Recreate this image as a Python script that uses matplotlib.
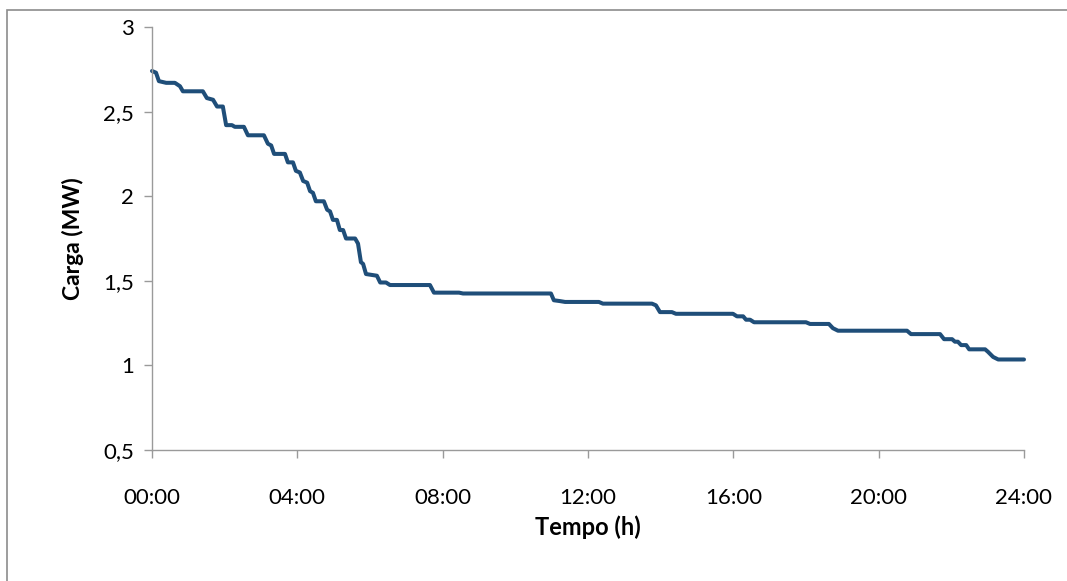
import matplotlib
matplotlib.use("Agg")
import matplotlib.pyplot as plt
from matplotlib.patches import Rectangle

# Load profile over one day (hour of day, load in MW)
hours = [0.00, 0.11, 0.19, 0.39, 0.63, 0.77, 0.85, 1.40, 1.51, 1.68,
         1.79, 1.95, 2.04, 2.20, 2.28, 2.53, 2.64, 3.08, 3.19, 3.28,
         3.36, 3.66, 3.74, 3.88, 3.96, 4.07, 4.16, 4.27, 4.35, 4.43,
         4.51, 4.73, 4.82, 4.90, 4.98, 5.09, 5.17, 5.26, 5.34, 5.59,
         5.67, 5.75, 5.81, 5.89, 6.19, 6.28, 6.44, 6.55, 7.65, 7.76,
         8.45, 8.56, 10.98, 11.06, 11.23, 11.37, 12.30, 12.41, 13.76, 13.87,
         13.98, 14.31, 14.42, 15.99, 16.10, 16.27, 16.35, 16.46, 16.57, 18.00,
         18.11, 18.63, 18.74, 18.88, 20.78, 20.89, 21.69, 21.80, 22.02, 22.10,
         22.18, 22.27, 22.41, 22.49, 22.93, 23.01, 23.15, 23.29, 24.00]
load_mw = [2.74, 2.73, 2.68, 2.67, 2.67, 2.65, 2.62, 2.62, 2.58, 2.57,
           2.53, 2.53, 2.42, 2.42, 2.41, 2.41, 2.36, 2.36, 2.31, 2.30,
           2.25, 2.25, 2.20, 2.20, 2.15, 2.14, 2.09, 2.08, 2.03, 2.02,
           1.97, 1.97, 1.92, 1.91, 1.86, 1.86, 1.80, 1.80, 1.75, 1.75,
           1.72, 1.61, 1.60, 1.54, 1.53, 1.49, 1.49, 1.475, 1.475, 1.43,
           1.43, 1.425, 1.425, 1.385, 1.38, 1.375, 1.375, 1.365, 1.365, 1.355,
           1.315, 1.315, 1.305, 1.305, 1.29, 1.29, 1.27, 1.27, 1.255, 1.255,
           1.245, 1.245, 1.22, 1.205, 1.205, 1.185, 1.185, 1.155, 1.155, 1.14,
           1.14, 1.12, 1.12, 1.095, 1.095, 1.08, 1.05, 1.035, 1.035]

x_ticks = [0, 4, 8, 12, 16, 20, 24]
x_tick_labels = ["00:00", "04:00", "08:00", "12:00", "16:00", "20:00", "24:00"]
y_ticks = [0.5, 1.0, 1.5, 2.0, 2.5, 3.0]
y_tick_labels = ["0,5", "1", "1,5", "2", "2,5", "3"]

plt.rcParams["font.family"] = ["Lato", "DejaVu Sans"]

fig = plt.figure(figsize=(10.67, 5.81), dpi=100)
ax = fig.add_axes([152 / 1067, 1 - 450 / 581, (1024 - 152) / 1067, (450 - 27) / 581])

ax.plot(hours, load_mw, color="#1F4E79", lw=2.9, solid_joinstyle="round",
        solid_capstyle="round", clip_on=False)

ax.set_xlim(0, 24)
ax.set_ylim(0.5, 3.0)
ax.set_xticks(x_ticks)
ax.set_xticklabels(x_tick_labels)
ax.set_yticks(y_ticks)
ax.set_yticklabels(y_tick_labels)

axis_grey = "#9a9a9a"
for side in ("top", "right"):
    ax.spines[side].set_visible(False)
for side in ("left", "bottom"):
    ax.spines[side].set_color(axis_grey)
    ax.spines[side].set_linewidth(1.0)
ax.tick_params(axis="both", direction="out", length=6, width=1.0, color=axis_grey,
               labelsize=16, labelcolor="#000000")
ax.tick_params(axis="x", pad=21)
ax.tick_params(axis="y", pad=7)

ax.set_xlabel("Tempo (h)", fontsize=17, fontweight="bold", labelpad=6)
ax.set_ylabel("Carga (MW)", fontsize=16.5, fontweight="bold", labelpad=14)

# Chart-area frame
fig.patches.append(Rectangle((7 / 1067, -0.2), 1.2, 1 - 10 / 581 + 0.2,
                             transform=fig.transFigure, fill=False,
                             edgecolor="#8c8c8c", lw=1.2))

fig.savefig("out.png", dpi=100)
